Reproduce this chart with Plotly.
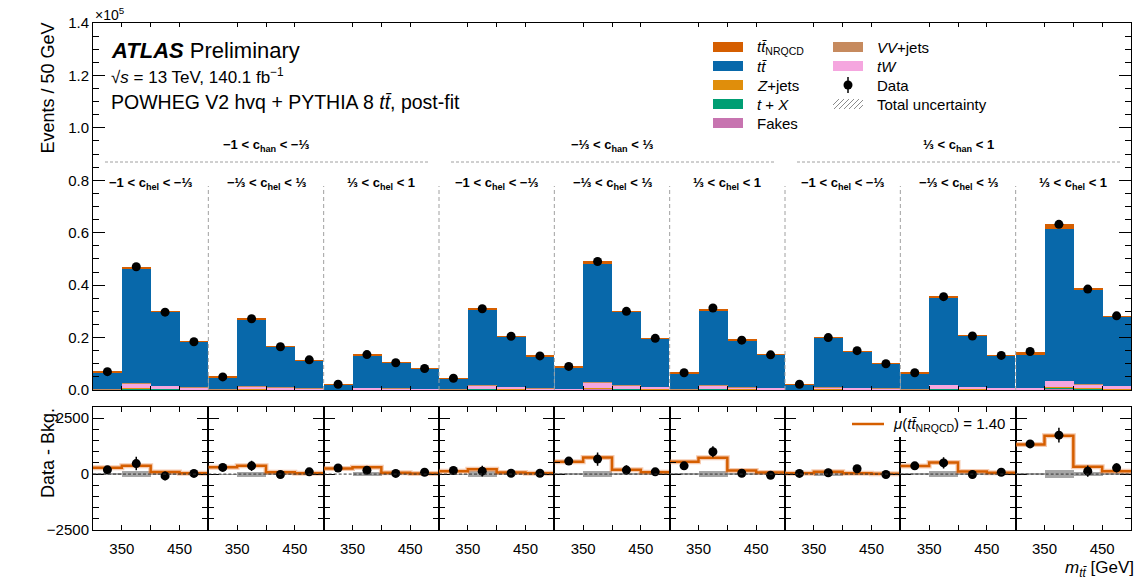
import plotly.graph_objects as go

# ---------------------------------------------------------------- data
# m_tt binning inside each (c_han, c_hel) slice, in GeV
BIN_EDGES = [300, 350, 400, 450, 500]
BIN_CENTERS = [325, 375, 425, 475]
X_TICKS = [350, 450]
X_TICK_TEXT = ["350", "450"]

C_HAN_LABELS = [
    "<b>−1 &lt; c<sub>han</sub> &lt; −⅓</b>",
    "<b>−⅓ &lt; c<sub>han</sub> &lt; ⅓</b>",
    "<b>⅓ &lt; c<sub>han</sub> &lt; 1</b>",
]
C_HEL_LABELS = [
    "<b>−1 &lt; c<sub>hel</sub> &lt; −⅓</b>",
    "<b>−⅓ &lt; c<sub>hel</sub> &lt; ⅓</b>",
    "<b>⅓ &lt; c<sub>hel</sub> &lt; 1</b>",
]

# Post-fit yields (events per 50 GeV), one row of four m_tt bins per slice
FAKES = [[60, 370, 240, 150], [40, 210, 130, 90], [20, 110, 80, 60],
         [40, 250, 160, 100], [70, 390, 240, 160], [50, 240, 150, 110],
         [20, 160, 120, 80], [50, 280, 160, 100], [110, 490, 310, 220]]
T_X = [[30, 230, 150, 90], [20, 130, 80, 60], [10, 70, 50, 40],
       [20, 150, 100, 60], [40, 240, 150, 100], [30, 150, 90, 70],
       [10, 100, 70, 50], [30, 180, 100, 70], [70, 310, 190, 140]]
Z_JETS = [[20, 140, 90, 60], [10, 80, 50, 30], [10, 40, 30, 20],
          [10, 90, 60, 40], [30, 140, 90, 60], [20, 90, 60, 40],
          [10, 60, 40, 30], [20, 110, 60, 40], [40, 180, 120, 80]]
TW = [[250, 1700, 1100, 750], [200, 1100, 700, 500], [100, 600, 450, 350],
      [200, 1300, 850, 550], [350, 2000, 1250, 850], [250, 1300, 800, 600],
      [100, 800, 600, 450], [250, 1450, 850, 600], [550, 2500, 1600, 1200]]
VV_JETS = [[10, 90, 60, 40], [10, 50, 30, 20], [0, 30, 20, 20],
           [10, 60, 40, 30], [20, 100, 60, 40], [10, 60, 40, 30],
           [0, 40, 30, 20], [10, 70, 40, 30], [30, 120, 80, 60]]
TTBAR = [[6440, 44000, 28140, 17280], [4420, 25260, 15530, 10700],
         [1790, 12480, 9740, 7630], [4060, 29020, 19250, 12180],
         [7910, 45460, 28030, 18390], [5870, 28460, 17820, 12600],
         [2030, 18780, 13900, 9390], [5870, 33010, 19410, 12280],
         [12550, 57860, 36070, 26320]]
TT_NRQCD = [[280, 370, 90, 40], [310, 370, 80, 40], [250, 310, 60, 30],
            [130, 220, 70, 40], [550, 740, 190, 80], [550, 730, 160, 70],
            [40, 100, 40, 20], [360, 520, 120, 60], [1320, 1720, 330, 130]]

DATA = [[7000, 47000, 29700, 18400], [5000, 27200, 16500, 11500],
        [2200, 13500, 10400, 8200], [4500, 31000, 20500, 13000],
        [9000, 49000, 30000, 19700], [6600, 31300, 19000, 13400],
        [2200, 20000, 15000, 10000], [6600, 35600, 20600, 13200],
        [14700, 63200, 38500, 28300]]
DATA_ERR = [[110, 300, 200, 130], [90, 230, 150, 110], [60, 160, 130, 110],
            [90, 240, 170, 120], [120, 300, 210, 150], [100, 250, 160, 120],
            [60, 180, 150, 110], [100, 250, 170, 120], [150, 330, 250, 210]]

# Data minus non-NRQCD background, and the background uncertainty
DATA_MINUS_BKG = [[190, 470, -80, 30], [300, 370, -20, 100], [270, 170, 30, 80],
                  [160, 130, 40, 40], [580, 670, 180, 100], [370, 1000, 40, -50],
                  [30, 60, 240, -20], [370, 500, -20, 80], [1350, 1740, 130, 280]]
BKG_UNC = [[30, 130, 50, 30], [20, 110, 40, 25], [15, 80, 35, 25],
           [25, 120, 50, 30], [40, 150, 60, 40], [30, 120, 50, 30],
           [15, 90, 40, 25], [30, 130, 50, 30], [60, 170, 80, 50]]
MU_NRQCD = 1.40

MAIN_Y_TICKS = [0, 20000, 40000, 60000, 80000, 100000, 120000, 140000]
MAIN_Y_TEXT = ["0.0", "0.2", "0.4", "0.6", "0.8", "1.0", "1.2", "1.4"]
RATIO_Y_TICKS = [-2500, 0, 2500]
RATIO_Y_TEXT = ["−2500", "0", "2500"]

# ---------------------------------------------------------------- style
COLORS = {
    "nrqcd": "#D55E00", "tt": "#0868AA", "z": "#E08E0B", "tx": "#009E73",
    "fakes": "#C774B0", "vv": "#C68A5E", "tw": "#F5A6DF",
}
FONT = "Liberation Sans, Arial, sans-serif"
W, H = 1145, 582
N_PANELS = 9
LEFT_PX, RIGHT_PX = 93, 1131
PANEL_PX = (RIGHT_PX - LEFT_PX) / N_PANELS
MAIN_DOMAIN = [1 - 390 / H, 1 - 23 / H]
RATIO_DOMAIN = [1 - 530 / H, 1 - 407 / H]


def px(x):
    return x / W


def py(y):
    return 1 - y / H


fig = go.Figure()

stack = [
    (FAKES, COLORS["fakes"]),
    (T_X, COLORS["tx"]),
    (Z_JETS, COLORS["z"]),
    (TW, COLORS["tw"]),
    (VV_JETS, COLORS["vv"]),
    (TTBAR, COLORS["tt"]),
    (TT_NRQCD, COLORS["nrqcd"]),
]

layout_axes = {}
for i in range(N_PANELS):
    n_main, n_ratio = i + 1, i + 1 + N_PANELS
    xm, ym = f"x{n_main}", f"y{n_main}"
    xr, yr = f"x{n_ratio}", f"y{n_ratio}"

    # stacked prediction
    for values, color in stack:
        fig.add_trace(go.Bar(
            x=BIN_CENTERS, y=values[i], width=50, marker_color=color,
            marker_line_width=0, xaxis=xm, yaxis=ym, hoverinfo="skip",
        ))
    # data points
    fig.add_trace(go.Scatter(
        x=BIN_CENTERS, y=DATA[i], mode="markers", xaxis=xm, yaxis=ym,
        marker=dict(color="black", size=9),
        error_y=dict(type="data", array=DATA_ERR[i], color="black",
                     thickness=1.5, width=0),
    ))

    # lower panel: background uncertainty band around zero
    fig.add_trace(go.Bar(
        x=BIN_CENTERS, y=[2 * u for u in BKG_UNC[i]],
        base=[-u for u in BKG_UNC[i]], width=50,
        marker_color="rgba(150,150,150,0.85)", marker_line_width=0,
        xaxis=xr, yaxis=yr, hoverinfo="skip",
    ))
    # NRQCD expectation as a step line
    step_y = TT_NRQCD[i] + [TT_NRQCD[i][-1]]
    fig.add_trace(go.Scatter(
        x=BIN_EDGES, y=step_y, mode="lines", line_shape="hv",
        line=dict(color="rgba(235,140,80,0.45)", width=5),
        xaxis=xr, yaxis=yr, hoverinfo="skip",
    ))
    fig.add_trace(go.Scatter(
        x=BIN_EDGES, y=step_y, mode="lines", line_shape="hv",
        line=dict(color=COLORS["nrqcd"], width=2.5),
        xaxis=xr, yaxis=yr, hoverinfo="skip",
    ))
    fig.add_trace(go.Scatter(
        x=BIN_CENTERS, y=DATA_MINUS_BKG[i], mode="markers",
        marker=dict(color="black", size=9), xaxis=xr, yaxis=yr,
        error_y=dict(type="data", array=DATA_ERR[i], color="black",
                     thickness=1.5, width=0),
    ))

    dom = [px(LEFT_PX + i * PANEL_PX), px(LEFT_PX + (i + 1) * PANEL_PX)]
    layout_axes[f"xaxis{n_main}"] = dict(
        domain=dom, anchor=ym, range=[300, 500], showticklabels=False,
        showline=True, linecolor="black", linewidth=1, mirror="ticks",
        ticks="inside", ticklen=4, tickmode="linear", tick0=300, dtick=50,
        tickcolor="black", showgrid=False, zeroline=False, automargin=False,
    )
    main_y = dict(
        domain=MAIN_DOMAIN, anchor=xm, range=[0, 140000],
        showgrid=False, zeroline=False, automargin=False,
    )
    if i == 0 or i == N_PANELS - 1:
        main_y.update(
            showline=True, linecolor="black", linewidth=1,
            side="left" if i == 0 else "right",
            showticklabels=(i == 0),
            tickmode="array", tickvals=MAIN_Y_TICKS, ticktext=MAIN_Y_TEXT,
            ticks="inside", ticklen=12, tickcolor="black",
            tickfont=dict(size=15, color="black"),
            minor=dict(tickmode="linear", tick0=0, dtick=5000,
                       ticks="inside", ticklen=6, tickcolor="black"),
        )
    else:
        main_y.update(visible=False)
    layout_axes[f"yaxis{n_main}"] = main_y

    layout_axes[f"xaxis{n_ratio}"] = dict(
        domain=dom, anchor=yr, range=[300, 500],
        tickmode="array", tickvals=X_TICKS, ticktext=X_TICK_TEXT,
        ticks="inside", ticklen=5, tickcolor="black", mirror="ticks",
        ticklabelstandoff=5,
        minor=dict(tickmode="linear", tick0=300, dtick=50,
                   ticks="inside", ticklen=5, tickcolor="black"),
        showline=True, linecolor="black", linewidth=1,
        tickfont=dict(size=15, color="black"),
        showgrid=False, zeroline=False, automargin=False,
    )
    layout_axes[f"yaxis{n_ratio}"] = dict(
        domain=RATIO_DOMAIN, anchor=xr, range=[-2500, 3000],
        tickmode="array", tickvals=RATIO_Y_TICKS, ticktext=RATIO_Y_TEXT,
        showticklabels=(i == 0), ticks="inside", ticklen=11,
        tickcolor="black", mirror="ticks",
        showline=True, linecolor="black", linewidth=1,
        tickfont=dict(size=15, color="black"),
        minor=dict(tickmode="linear", tick0=0, dtick=500,
                   ticks="inside", ticklen=6, tickcolor="black"),
        showgrid=False, zeroline=False, automargin=False,
    )

# ---------------------------------------------------------------- shapes
shapes = []
# dashed separators between c_hel slices
for i in range(1, N_PANELS):
    xb = px(LEFT_PX + i * PANEL_PX)
    shapes.append(dict(type="line", xref="paper", yref="paper",
                       x0=xb, x1=xb, y0=MAIN_DOMAIN[0], y1=py(186),
                       line=dict(color="#a0a0a0", width=1, dash="4px,3px")))
# dashed rule under each c_han header
for g in range(3):
    gx0 = LEFT_PX + 3 * g * PANEL_PX
    gx1 = gx0 + 3 * PANEL_PX
    shapes.append(dict(type="line", xref="paper", yref="paper",
                       x0=px(gx0 + 12), x1=px(gx1 - 11), y0=py(162), y1=py(162),
                       line=dict(color="#a0a0a0", width=1, dash="3px,2px")))
# zero lines in the lower panels
for i in range(N_PANELS):
    n = i + 1 + N_PANELS
    shapes.append(dict(type="line", xref=f"x{n}", yref=f"y{n}",
                       x0=300, x1=500, y0=0, y1=0,
                       line=dict(color="#333333", width=1, dash="3px,2px")))

# legend swatches
legend_col1 = [
    ("<i>tt̄</i><sub>NRQCD</sub>", COLORS["nrqcd"]),
    ("<i>tt̄</i>", COLORS["tt"]),
    ("<i>Z</i>+jets", COLORS["z"]),
    ("<i>t</i> + <i>X</i>", COLORS["tx"]),
    ("Fakes", COLORS["fakes"]),
]
legend_col2 = [
    ("<i>VV</i>+jets", COLORS["vv"]),
    ("<i>tW</i>", COLORS["tw"]),
]
ROW_Y = [47, 66, 85, 104, 123]
annotations = []
for k, (label, color) in enumerate(legend_col1):
    yc = ROW_Y[k]
    shapes.append(dict(type="rect", xref="paper", yref="paper",
                       x0=px(713), x1=px(743), y0=py(yc + 5), y1=py(yc - 5),
                       fillcolor=color, line=dict(width=0)))
    annotations.append(dict(text=label, x=px(755), y=py(yc), xanchor="left",
                            yanchor="middle", font=dict(size=15)))
for k, (label, color) in enumerate(legend_col2):
    yc = ROW_Y[k]
    shapes.append(dict(type="rect", xref="paper", yref="paper",
                       x0=px(833), x1=px(863), y0=py(yc + 5), y1=py(yc - 5),
                       fillcolor=color, line=dict(width=0)))
    annotations.append(dict(text=label, x=px(875), y=py(yc), xanchor="left",
                            yanchor="middle", font=dict(size=15)))
# Data entry: marker with error bar
shapes.append(dict(type="line", xref="paper", yref="paper",
                   x0=px(848), x1=px(848), y0=py(ROW_Y[2] + 8), y1=py(ROW_Y[2] - 8),
                   line=dict(color="black", width=1.5)))
shapes.append(dict(type="circle", xref="paper", yref="paper",
                   x0=px(843.5), x1=px(852.5), y0=py(ROW_Y[2] + 4.5),
                   y1=py(ROW_Y[2] - 4.5), fillcolor="black",
                   line=dict(color="black", width=0)))
annotations.append(dict(text="Data", x=px(875), y=py(ROW_Y[2]),
                        xanchor="left", yanchor="middle", font=dict(size=15)))
# Total uncertainty entry: hatched box
yc = ROW_Y[3]
for k in range(7):
    xa = 833 + k * 5 - 4
    x0, y0, x1, y1 = xa, yc + 5, xa + 10, yc - 5
    if x0 < 833:
        y0 -= (833 - x0)
        x0 = 833
    if x1 > 863:
        y1 += (x1 - 863)
        x1 = 863
    shapes.append(dict(type="line", xref="paper", yref="paper",
                       x0=px(x0), x1=px(x1), y0=py(y0), y1=py(y1),
                       line=dict(color="#8c8c8c", width=1)))
annotations.append(dict(text="Total uncertainty", x=px(875), y=py(yc),
                        xanchor="left", yanchor="middle", font=dict(size=15)))

# lower-panel legend: white box over the panel ticks, then the entry
shapes.append(dict(type="rect", xref="paper", yref="paper",
                   x0=px(846), x1=px(1010), y0=py(437), y1=py(413),
                   fillcolor="white", line=dict(width=0), layer="above"))
shapes.append(dict(type="line", xref="paper", yref="paper",
                   x0=px(852), x1=px(884), y0=py(424), y1=py(424),
                   line=dict(color=COLORS["nrqcd"], width=2.5)))
annotations.append(dict(
    text=f"<i>μ</i>(<i>tt̄</i><sub>NRQCD</sub>) = {MU_NRQCD:.2f}",
    x=px(891), y=py(424), xanchor="left", yanchor="middle",
    font=dict(size=15)))

# ---------------------------------------------------------------- text
annotations += [
    dict(text="×10<sup>5</sup>", x=px(93), y=py(14), xanchor="left",
         yanchor="middle", font=dict(size=14)),
    dict(text="<b><i>ATLAS</i></b> Preliminary", x=px(109), y=py(50),
         xanchor="left", yanchor="middle", font=dict(size=22)),
    dict(text="√<i>s</i> = 13 TeV, 140.1 fb<sup>−1</sup>", x=px(109),
         y=py(76), xanchor="left", yanchor="middle", font=dict(size=17)),
    dict(text="POWHEG V2 hvq + PYTHIA 8 <i>tt̄</i>, post-fit", x=px(109),
         y=py(102), xanchor="left", yanchor="middle", font=dict(size=19.5)),
    dict(text="Events / 50 GeV", x=px(48), y=py(21), xanchor="center",
         yanchor="top", textangle=-90, font=dict(size=18)),
    dict(text="Data - Bkg.", x=px(48), y=py(406), xanchor="center",
         yanchor="top", textangle=-90, font=dict(size=18)),
    dict(text="<i>m</i><sub><i>tt̄</i></sub> [GeV]", x=px(1136), y=py(569),
         xanchor="right", yanchor="middle", font=dict(size=17)),
]
for g, label in enumerate(C_HAN_LABELS):
    xc = LEFT_PX + (3 * g + 1.5) * PANEL_PX
    annotations.append(dict(text=label, x=px(xc), y=py(145), xanchor="center",
                            yanchor="middle", font=dict(size=13)))
for i in range(N_PANELS):
    xc = LEFT_PX + (i + 0.5) * PANEL_PX
    annotations.append(dict(text=C_HEL_LABELS[i % 3], x=px(xc), y=py(183),
                            xanchor="center", yanchor="middle",
                            font=dict(size=13)))
for a in annotations:
    a.setdefault("xref", "paper")
    a.setdefault("yref", "paper")
    a.setdefault("showarrow", False)

fig.update_layout(
    width=W, height=H,
    margin=dict(l=0, r=0, t=0, b=0, autoexpand=False),
    barmode="stack", bargap=0, showlegend=False,
    plot_bgcolor="white", paper_bgcolor="white",
    font=dict(family=FONT, color="black"),
    shapes=shapes, annotations=annotations,
    **layout_axes,
)

fig.write_html("out.html")
